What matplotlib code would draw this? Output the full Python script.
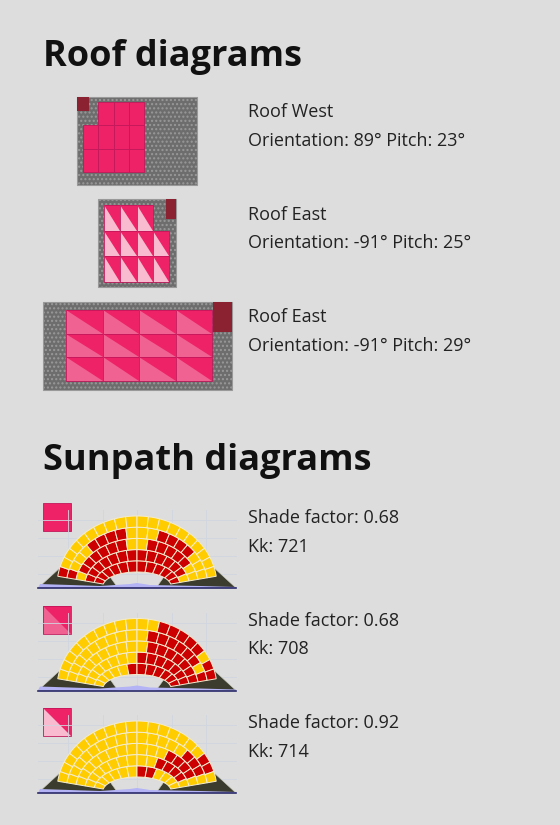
import numpy as np
import matplotlib
matplotlib.use("Agg")
import matplotlib.pyplot as plt
from matplotlib.patches import Rectangle, Polygon

plt.rcParams['font.family'] = ['Open Sans', 'DejaVu Sans']

roof_names = ["Roof West", "Roof East", "Roof East"]
orientations = [89, -91, -91]
pitches = [23, 25, 29]
shade_factors = [0.68, 0.68, 0.92]
kk_values = [721, 708, 714]
# sunpath shading per ring (inner -> outer), cells left -> right; Y = sun, R = shaded
sun_rings = [
    ["RRRRRRRRRRRR", "RRRRRRRRRRRRRY", "YRRRRRRYYRRRRRYY", "RYYYRRRRYYYRRRRYYY", "RYYYYYYYYYYYYYYYYYYY"],
    ["YYYYYRRRRRRR", "YYYYYYYRRRRRRR", "YYYYYYYYYRRRRRRR", "YYYYYYYYYYRRRRRRYR", "YYYYYYYYYYYYRRRRRYRR"],
    ["YYYYYYRRYYYY", "YYYYYYYYYRRRRY", "YYYYYYYYYYYRRRRY", "YYYYYYYYYYYYYYRRRY", "YYYYYYYYYYYYYYYYYRRY"],
]

BG = "#dddddd"
PINK = "#ee2266"
MID = "#f06292"
LIGHT = "#f8bbd0"
GRAY = "#6d6d6d"
DARKRED = "#8b2232"
TXT = "#222222"

fig = plt.figure(figsize=(5.6, 8.25), dpi=100, facecolor=BG)
ax = fig.add_axes([0, 0, 1, 1])
ax.set_xlim(0, 560); ax.set_ylim(825, 0); ax.axis('off')
ax.set_facecolor(BG)

ax.text(43, 57, "Roof diagrams", fontsize=26, fontweight='bold', va='center', color='#111')
ax.text(43, 461, "Sunpath diagrams", fontsize=26, fontweight='bold', va='center', color='#111')

def panel(x, y, w, h, kind):
    if kind == 'full':
        ax.add_patch(Rectangle((x, y), w, h, fc=PINK, ec='#c2185b', lw=0.6))
    else:
        light = LIGHT if kind == 'light' else MID
        ax.add_patch(Rectangle((x, y), w, h, fc=PINK, ec='none'))
        ax.add_patch(Polygon([(x, y), (x, y + h), (x + w, y + h)], fc=light, ec='none'))
        ax.add_patch(Rectangle((x, y), w, h, fc='none', ec='#c2185b', lw=0.6))

# roof layouts: (gray rect, dark square, panel origin, cell size, cols, rows, missing, kind)
roofs = [
    ((77, 97, 120, 88), (77, 97, 12, 14), (83, 102), (15.3, 23.3), 4, 3, [(0, 0)], 'full'),
    ((98, 199, 78, 88), (166, 199, 10, 20), (104, 205), (16.3, 25.5), 4, 3, [(3, 0)], 'light'),
    ((43, 302, 189, 88), (213, 302, 19, 30), (66, 310), (36.5, 23.7), 4, 3, [], 'mid'),
]
for i, (g, d, o, c, nc, nr, miss, kind) in enumerate(roofs):
    ax.add_patch(Rectangle(g[:2], g[2], g[3], fc=GRAY, ec='#999', lw=0.8, hatch='....', ))
    ax.add_patch(Rectangle(d[:2], d[2], d[3], fc=DARKRED, ec='none'))
    for ci in range(nc):
        for ri in range(nr):
            if (ci, ri) in miss:
                continue
            panel(o[0] + ci * c[0], o[1] + ri * c[1], c[0], c[1], kind)
    ty = 112 + i * 102.5
    ax.text(248, ty, roof_names[i], fontsize=13, va='center', color=TXT)
    ax.text(248, ty + 29, f"Orientation: {orientations[i]}° Pitch: {pitches[i]}°",
            fontsize=13, va='center', color=TXT)

icon_kinds = ['full', 'mid', 'light']
colors = {'Y': '#ffcc00', 'R': '#cc0000'}
for k in range(3):
    y0 = 495 + k * 102.5
    base = y0 + 93
    cx = 137
    # icon
    panel(43, y0 + 8, 28, 28, icon_kinds[k])
    # grid
    for gx in [68, 103, 137, 172, 206]:
        ax.plot([gx, gx], [y0 + 15, base], color='#d0d6e0', lw=0.6)
    for gy in [y0 + 25, y0 + 43, y0 + 61, y0 + 79]:
        ax.plot([38, 236], [gy, gy], color='#d0d6e0', lw=0.6)
    # mountains
    left = [(38, base), (62, base - 22), (74, base - 12), (86, base - 18), (98, base - 9), (108, base - 14), (118, base)]
    right = [(2 * cx - x, y) for x, y in left]
    for poly in (left, right):
        ax.add_patch(Polygon(poly, fc='#3b3b2e', ec='#cfcfc0', lw=0.4, zorder=2))
    # horizon
    ax.add_patch(Polygon([(38, base), (40, base - 4), (70, base - 3), (100, base - 2), (130, base - 4),
                          (137, base - 5), (150, base - 3), (200, base - 2), (236, base - 1), (236, base)],
                         fc='#b3b3f5', ec='none', zorder=3))
    ax.plot([38, 236], [base, base], color='#2a2a6a', lw=1.2, zorder=3)
    # dome
    rxi, ryi, rxo, ryo = 34, 14, 80, 70
    th0 = np.radians(8)
    rings = sun_rings[k]
    n = len(rings)
    for ri, row in enumerate(rings):
        t0, t1 = ri / n, (ri + 1) / n
        a0, b0 = rxi + (rxo - rxi) * t0, ryi + (ryo - ryi) * t0
        a1, b1 = rxi + (rxo - rxi) * t1, ryi + (ryo - ryi) * t1
        m = len(row)
        edges = np.linspace(np.pi - th0, th0, m + 1)
        for j, ch in enumerate(row):
            th = np.linspace(edges[j], edges[j + 1], 6)
            outer = [(cx + a1 * np.cos(t), base - 2 - b1 * np.sin(t)) for t in th]
            inner = [(cx + a0 * np.cos(t), base - 2 - b0 * np.sin(t)) for t in th[::-1]]
            ax.add_patch(Polygon(outer + inner, fc=colors[ch], ec='#f3ecd0', lw=0.7, zorder=4))
    ax.text(248, y0 + 23, f"Shade factor: {shade_factors[k]}", fontsize=13, va='center', color=TXT)
    ax.text(248, y0 + 52, f"Kk: {kk_values[k]}", fontsize=13, va='center', color=TXT)

fig.savefig("out.png", dpi=100, facecolor=BG)
